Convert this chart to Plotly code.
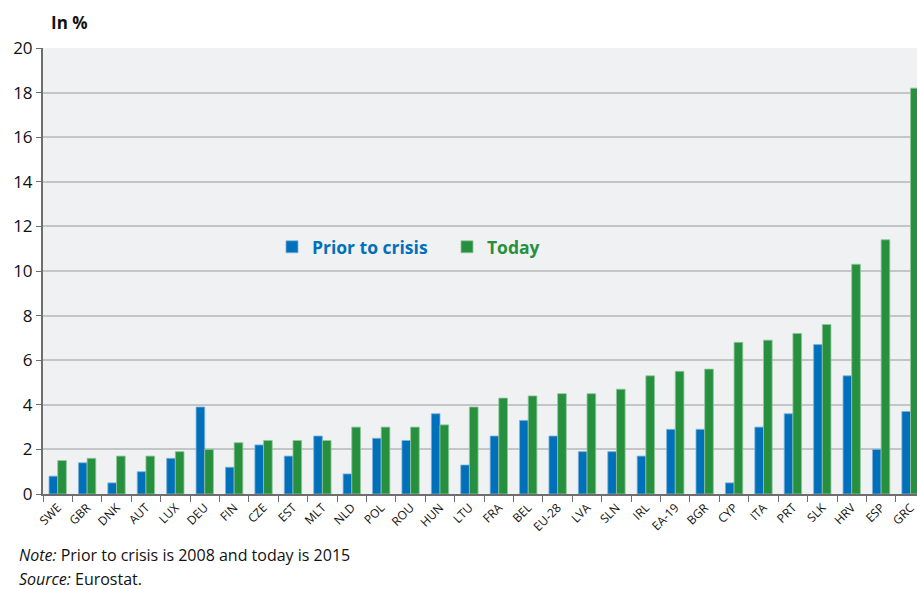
import plotly.graph_objects as go

countries = ["SWE", "GBR", "DNK", "AUT", "LUX", "DEU", "FIN", "CZE", "EST", "MLT",
             "NLD", "POL", "ROU", "HUN", "LTU", "FRA", "BEL", "EU-28", "LVA", "SLN",
             "IRL", "EA-19", "BGR", "CYP", "ITA", "PRT", "SLK", "HRV", "ESP", "GRC"]
prior_to_crisis = [0.8, 1.4, 0.5, 1.0, 1.6, 3.9, 1.2, 2.2, 1.7, 2.6,
                   0.9, 2.5, 2.4, 3.6, 1.3, 2.6, 3.3, 2.6, 1.9, 1.9,
                   1.7, 2.9, 2.9, 0.5, 3.0, 3.6, 6.7, 5.3, 2.0, 3.7]
today = [1.5, 1.6, 1.7, 1.7, 1.9, 2.0, 2.3, 2.4, 2.4, 2.4,
         3.0, 3.0, 3.0, 3.1, 3.9, 4.3, 4.4, 4.5, 4.5, 4.7,
         5.3, 5.5, 5.6, 6.8, 6.9, 7.2, 7.6, 10.3, 11.4, 18.2]
y_ticks = [0, 2, 4, 6, 8, 10, 12, 14, 16, 18, 20]

BLUE = "#0070BA"
GREEN = "#27903E"
FONT = "Open Sans"
AXIS = "#6e6e6e"

fig = go.Figure()
fig.add_trace(go.Bar(
    x=countries, y=prior_to_crisis,
    name=f"<b><span style='color:{BLUE}'>Prior to crisis</span></b>",
    marker=dict(color=BLUE, line=dict(color="#7fb3dc", width=0.8)),
))
fig.add_trace(go.Bar(
    x=countries, y=today,
    name=f"<b><span style='color:{GREEN}'>Today</span></b>",
    marker=dict(color=GREEN, line=dict(color="#8fc79d", width=0.8)),
))
# empty helper trace so the labelled left axis (y2) is drawn
fig.add_trace(go.Scatter(x=[], y=[], yaxis="y2", showlegend=False, hoverinfo="skip"))

fig.update_layout(
    width=917, height=589,
    margin=dict(l=43, r=0, t=48, b=95),
    paper_bgcolor="white",
    plot_bgcolor="#f0f1f3",
    barmode="group",
    bargap=0.41,
    bargroupgap=0,
    font=dict(family=FONT, color="#111111"),
    showlegend=True,
    legend=dict(
        orientation="h",
        x=0.262, y=0.554, xanchor="left", yanchor="middle",
        bgcolor="rgba(0,0,0,0)",
        font=dict(family=FONT, size=17.5),
        itemwidth=30,
        entrywidth=130,
        traceorder="normal",
    ),
    xaxis=dict(
        type="category",
        range=[-0.5, 29.22],
        tickangle=-45,
        tickfont=dict(family=FONT, size=12, color="#111111"),
        showline=True, linecolor=AXIS, linewidth=2,
        ticks="outside", ticklen=6, tickcolor=AXIS, tickwidth=1,
        tickson="boundaries",
        showgrid=False,
    ),
    yaxis=dict(
        range=[0, 20],
        tickvals=y_ticks[:-1],
        showticklabels=False,
        ticks="",
        showline=False,
        showgrid=True, gridcolor="#c4c5c7", gridwidth=1.5,
        zeroline=False,
    ),
    yaxis2=dict(
        overlaying="y", side="left",
        range=[0, 20],
        tickvals=y_ticks,
        tickfont=dict(family=FONT, size=17, color="#111111"),
        showline=True, linecolor=AXIS, linewidth=2,
        ticks="outside", ticklen=5, tickcolor=AXIS, tickwidth=1,
        showgrid=False, zeroline=False,
    ),
    annotations=[
        dict(text="<b>In %</b>", xref="paper", yref="paper", x=0.007, y=1.0,
             xanchor="left", yanchor="bottom", yshift=12, showarrow=False,
             font=dict(family=FONT, size=17, color="#111111")),
        dict(text="<i>Note:</i> Prior to crisis is 2008 and today is 2015",
             xref="paper", yref="paper", x=-0.0297, y=0, xanchor="left", yanchor="top",
             yshift=-48, showarrow=False, align="left",
             font=dict(family=FONT, size=16, color="#111111")),
        dict(text="<i>Source:</i> Eurostat.",
             xref="paper", yref="paper", x=-0.0297, y=0, xanchor="left", yanchor="top",
             yshift=-72, showarrow=False, align="left",
             font=dict(family=FONT, size=16, color="#111111")),
    ],
)

fig.write_html(
    "out.html",
    config={"displayModeBar": False},
    post_script="document.body.style.margin='0';document.body.style.overflow='hidden';",
)
